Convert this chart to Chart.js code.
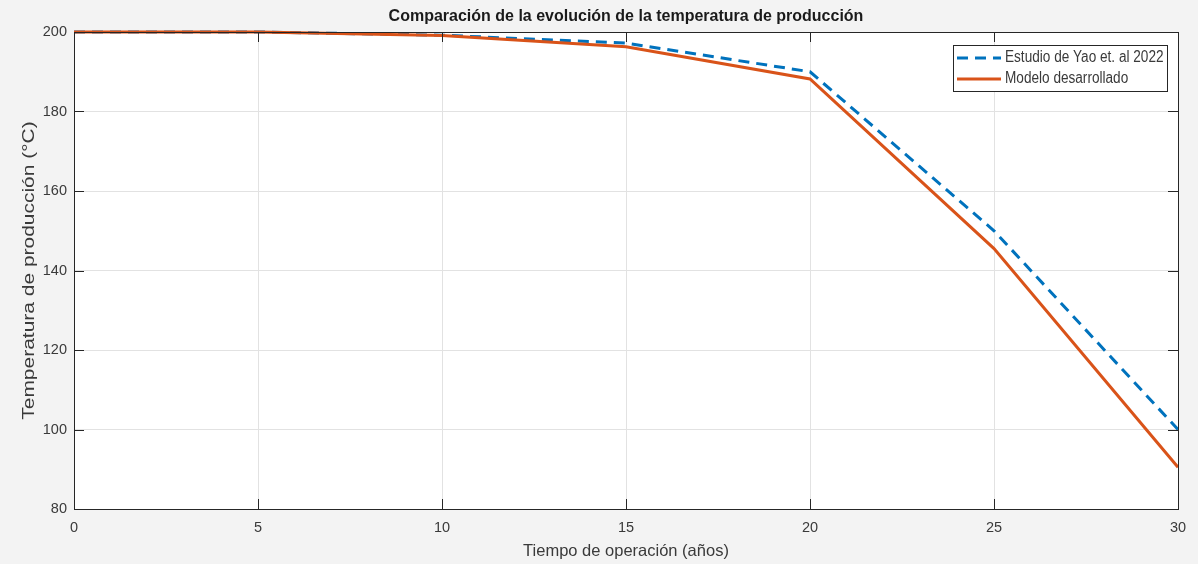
<!DOCTYPE html>
<html>
<head>
<meta charset="utf-8">
<script src="https://cdn.jsdelivr.net/npm/chart.js@4"></script>
<style>
  html, body { margin:0; padding:0; background:#f3f3f3; }
  canvas { display:block; }
</style>
</head>
<body>
<canvas id="chart" width="1198" height="564"></canvas>
<script>
//--------------------------------------------------
// DATA
//--------------------------------------------------
const years = [0, 5, 10, 15, 20, 25, 30];
const yaoTemp = [200, 200, 199.2, 197.2, 190, 150, 100];
const modelTemp = [200, 200, 199.1, 196.3, 188.2, 145.5, 90.5];
const xTicks = [0, 5, 10, 15, 20, 25, 30];
const yTicks = [80, 100, 120, 140, 160, 180, 200];

const AXIS = "#262626";
const TEXT = "#3a3a3a";
const FONT = "'Liberation Sans', Arial, sans-serif";

function pts(xs, ys){ return xs.map((x,i)=>({x:x, y:ys[i]})); }

//--------------------------------------------------
// PLUGINS
//--------------------------------------------------
const matlabBox = {
  id:"matlabBox",
  beforeDraw(chart){
    const {ctx, chartArea:a} = chart;
    ctx.save();
    ctx.fillStyle = "#f3f3f3";
    ctx.fillRect(0, 0, chart.width, chart.height);
    ctx.fillStyle = "#ffffff";
    ctx.fillRect(a.left, a.top, a.right - a.left, a.bottom - a.top);
    ctx.restore();
  },
  afterDatasetsDraw(chart){
    const {ctx, chartArea:a, scales} = chart;
    ctx.save();
    // ticks inside on all four sides
    ctx.strokeStyle = AXIS;
    ctx.lineWidth = 1;
    const tl = 10;
    ctx.beginPath();
    xTicks.forEach(v=>{
      const x = Math.round(scales.x.getPixelForValue(v)) + 0.5;
      ctx.moveTo(x, a.bottom); ctx.lineTo(x, a.bottom - tl);
      ctx.moveTo(x, a.top); ctx.lineTo(x, a.top + tl);
    });
    yTicks.forEach(v=>{
      const y = Math.round(scales.y.getPixelForValue(v)) + 0.5;
      ctx.moveTo(a.left, y); ctx.lineTo(a.left + tl, y);
      ctx.moveTo(a.right, y); ctx.lineTo(a.right - tl, y);
    });
    ctx.stroke();
    ctx.strokeRect(Math.round(a.left)+0.5, Math.round(a.top)+0.5,
                   Math.round(a.right - a.left), Math.round(a.bottom - a.top));

    // y title (stretched along its direction like the original)
    ctx.fillStyle = TEXT;
    ctx.font = "16px " + FONT;
    ctx.textAlign = "center";
    ctx.textBaseline = "middle";
    ctx.translate(30, (a.top + a.bottom) / 2);
    ctx.rotate(-Math.PI / 2);
    ctx.scale(1.31, 1);
    ctx.fillText("Temperatura de producción (°C)", 0, 0);
    ctx.restore();

    // legend box inside top-right
    ctx.save();
    const bx = 953, by = 45, bw = 214, bh = 46;
    ctx.fillStyle = "#ffffff";
    ctx.fillRect(bx, by, bw, bh);
    ctx.strokeStyle = AXIS;
    ctx.lineWidth = 1;
    ctx.strokeRect(bx + 0.5, by + 0.5, bw, bh);
    chart.data.datasets.forEach((ds, i)=>{
      const y = by + 13 + i * 21;
      ctx.strokeStyle = ds.borderColor;
      ctx.lineWidth = ds.borderWidth;
      ctx.setLineDash(ds.borderDash || []);
      ctx.beginPath();
      ctx.moveTo(bx + 4, y); ctx.lineTo(bx + 48, y);
      ctx.stroke();
      ctx.setLineDash([]);
      ctx.save();
      ctx.font = "16px " + FONT;
      ctx.textBaseline = "middle";
      ctx.textAlign = "left";
      ctx.fillStyle = TEXT;
      ctx.translate(bx + 52, y);
      ctx.scale(0.85, 1);
      ctx.fillText(ds.label, 0, 0);
      ctx.restore();
    });
    ctx.restore();
  }
};

//--------------------------------------------------
// CHART
//--------------------------------------------------
new Chart(document.getElementById("chart"), {
  type:"line",
  data:{
    datasets:[
      {
        label:"Estudio de Yao et. al 2022",
        data:pts(years, yaoTemp),
        borderColor:"#0072BD",
        borderWidth:3,
        borderDash:[11, 7],
        pointRadius:0,
        tension:0,
        clip:4,
        order:2
      },
      {
        label:"Modelo desarrollado",
        data:pts(years, modelTemp),
        borderColor:"#D95319",
        borderWidth:3,
        pointRadius:0,
        tension:0,
        clip:4,
        order:1
      }
    ]
  },
  options:{
    responsive:false,
    devicePixelRatio:1,
    animation:false,
    layout:{ padding:{ left:0, right:20, top:0, bottom:0 } },
    plugins:{
      legend:{ display:false },
      tooltip:{ enabled:false },
      title:{
        display:true,
        fullSize:false,
        text:"Comparación de la evolución de la temperatura de producción",
        color:"#1a1a1a",
        font:{ family:FONT, size:16, weight:"bold", lineHeight:1.1 },
        padding:{ top:8, bottom:6.4 }
      }
    },
    scales:{
      x:{
        type:"linear",
        min:0, max:30,
        afterFit(s){ s.height = 55; },
        afterBuildTicks(s){ s.ticks = xTicks.map(v=>({value:v})); },
        ticks:{ color:TEXT, font:{ family:FONT, size:14.5 }, padding:10, maxRotation:0 },
        grid:{ color:"#e2e2e2", drawTicks:false },
        border:{ display:false },
        title:{
          display:true,
          text:"Tiempo de operación (años)",
          color:TEXT,
          font:{ family:FONT, size:16.5 },
          padding:{ top:0, bottom:3 }
        }
      },
      y:{
        type:"linear",
        min:80, max:200,
        afterFit(s){ s.width = 74; },
        afterBuildTicks(s){ s.ticks = yTicks.map(v=>({value:v})); },
        ticks:{ color:TEXT, font:{ family:FONT, size:14.5 }, padding:7 },
        grid:{ color:"#e2e2e2", drawTicks:false },
        border:{ display:false }
      }
    }
  },
  plugins:[matlabBox]
});
</script>
</body>
</html>
